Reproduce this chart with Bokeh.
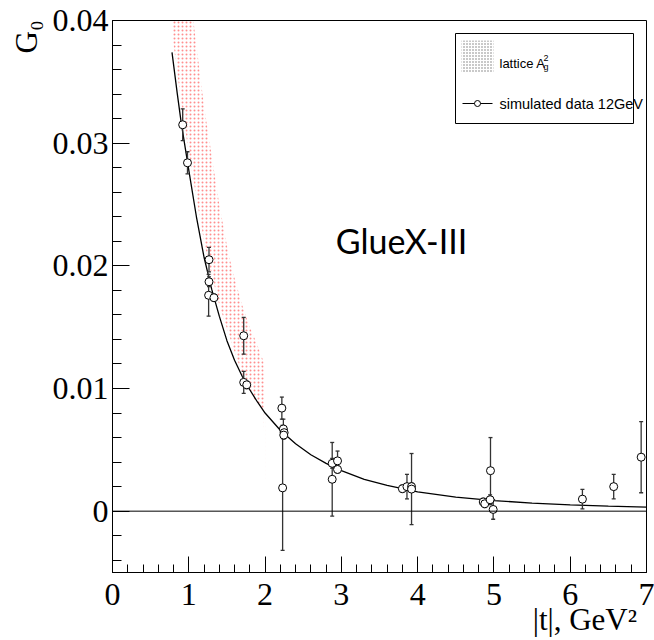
from bokeh.plotting import figure
from bokeh.models import (Range1d, FixedTicker, CustomJSTickFormatter, Span, Label,
                          BoxAnnotation)
from bokeh.embed import file_html
from bokeh.resources import INLINE

# ---------------- data ----------------
# fitted curve G0(|t|)
curve_t = [0.78, 0.85, 0.9, 1.0, 1.1, 1.2, 1.3, 1.4, 1.5, 1.6, 1.7, 1.8, 1.9, 2.0,
           2.2, 2.4, 2.6, 2.8, 3.0, 3.3, 3.6, 4.0, 4.5, 5.0, 5.5, 6.0, 6.5, 7.0]
curve_g = [0.0374, 0.0340, 0.0317, 0.0278, 0.0240, 0.0207, 0.0181, 0.0159, 0.0139,
           0.0123, 0.0110, 0.0099, 0.0089, 0.0080, 0.0066, 0.0055, 0.0046, 0.0039,
           0.0033, 0.0026, 0.0021, 0.00158, 0.00115, 0.00086, 0.00066, 0.00052,
           0.00041, 0.00033]

# lattice A_g^2 band
band_t = [0.78, 0.9, 1.0, 1.06, 1.1, 1.2, 1.29, 1.4, 1.52, 1.6, 1.7, 1.8, 1.87, 1.98, 2.0]
band_lo = [0.0390, 0.0333, 0.0292, 0.0270, 0.0255, 0.0220, 0.0195, 0.0168, 0.0145,
           0.0130, 0.0112, 0.0098, 0.0090, 0.0082, 0.0025]
band_hi = [0.0620, 0.0520, 0.0440, 0.0400, 0.0380, 0.0330, 0.0294, 0.0250, 0.0210,
           0.0190, 0.0168, 0.0150, 0.0140, 0.0122, 0.0082]

# simulated data 12 GeV
pt_t = [0.92, 0.983, 1.265, 1.265, 1.26, 1.33, 1.72, 1.72, 1.76, 2.22, 2.24, 2.25,
        2.245, 2.23, 2.88, 2.88, 2.95, 2.95, 3.80, 3.86, 3.92, 3.92, 4.86, 4.88,
        4.95, 4.955, 4.99, 6.16, 6.57, 6.93]
pt_g = [0.0315, 0.0284, 0.0205, 0.0187, 0.0176, 0.0174, 0.0143, 0.0105, 0.0103,
        0.0084, 0.0067, 0.0064, 0.0062, 0.0019, 0.0039, 0.0026, 0.0041, 0.0034,
        0.00183, 0.0020, 0.0020, 0.0018, 0.00075, 0.0006, 0.00093, 0.0033, 0.00014,
        0.00098, 0.0020, 0.0044]
pt_err = [0.0013, 0.0009, 0.0010, 0.0004, 0.0017, 0.0003, 0.0015, 0.0009, 0.0003,
          0.0009, 0.0008, 0.0004, 0.0003, 0.0051, 0.0004, 0.0030, 0.0008, 0.0003,
          0.0003, 0.0010, 0.0003, 0.0029, 0.0003, 0.0003, 0.0004, 0.0027, 0.0008,
          0.0008, 0.0010, 0.0029]

x_ticks = [0, 1, 2, 3, 4, 5, 6, 7]
y_ticks = [0.0, 0.01, 0.02, 0.03, 0.04]
x_title = "|t|, GeV²"
y_title = "G₀"

# ---------------- layout ----------------
W, H = 654, 640
FX0, FX1, FY0, FY1 = 112, 646, 20, 572
XMIN, XMAX, YMIN, YMAX = 0.0, 7.0, -0.005, 0.04
NB = "\u00a0"   # non-breaking space used to push the centred axis titles to the axis end


def px2x(px):
    return XMIN + (px - FX0) / (FX1 - FX0) * (XMAX - XMIN)


def py2y(py):
    return YMAX - (py - FY0) / (FY1 - FY0) * (YMAX - YMIN)


p = figure(width=W, height=H, x_range=Range1d(XMIN, XMAX), y_range=Range1d(YMIN, YMAX),
           output_backend="svg", toolbar_location=None, title=None,
           min_border_left=FX0, min_border_right=W - FX1,
           min_border_top=FY0, min_border_bottom=H - FY1)
p.grid.visible = False
p.outline_line_color = "black"
p.outline_line_width = 1
p.background_fill_color = "white"
p.border_fill_color = "white"

serif = "Liberation Serif"

xminor = [round(0.2 * i, 4) for i in range(0, 36)]
yminor = [round(-0.004 + 0.002 * i, 5) for i in range(0, 23)]

xa = p.xaxis[0]
xa.ticker = FixedTicker(ticks=x_ticks, minor_ticks=xminor)
xa.major_tick_in = 16
xa.major_tick_out = 0
xa.minor_tick_in = 8
xa.minor_tick_out = 0
xa.axis_line_color = "black"
xa.major_tick_line_color = "black"
xa.minor_tick_line_color = "black"
xa.major_label_text_font = serif
xa.major_label_text_font_size = "32px"
xa.major_label_text_color = "black"
xa.major_label_standoff = 11
xa.axis_label = NB * 53 + x_title
xa.axis_label_align = "center"
xa.axis_label_text_font = serif
xa.axis_label_text_font_size = "31px"
xa.axis_label_text_font_style = "normal"
xa.axis_label_text_color = "black"
xa.axis_label_standoff = -6

ya = p.yaxis[0]
ya.ticker = FixedTicker(ticks=y_ticks, minor_ticks=yminor)
ya.formatter = CustomJSTickFormatter(code="return Math.abs(tick) < 1e-9 ? '0' : tick.toFixed(2);")
ya.major_tick_in = 17
ya.major_tick_out = 0
ya.minor_tick_in = 9
ya.minor_tick_out = 0
ya.axis_line_color = "black"
ya.major_tick_line_color = "black"
ya.minor_tick_line_color = "black"
ya.major_label_text_font = serif
ya.major_label_text_font_size = "32px"
ya.major_label_text_color = "black"
ya.major_label_standoff = 4
ya.axis_label = NB * 67 + y_title
ya.axis_label_align = "center"
ya.axis_label_text_font = serif
ya.axis_label_text_font_size = "31px"
ya.axis_label_text_font_style = "normal"
ya.axis_label_text_color = "black"
ya.axis_label_standoff = 6

# lattice band
p.varea(x=band_t, y1=band_lo, y2=band_hi, fill_alpha=0, hatch_pattern="dot",
        hatch_color="#ff4444", hatch_scale=4, hatch_weight=1, hatch_alpha=0.6)

# zero line
p.add_layout(Span(location=0, dimension="width", line_color="black", line_width=1))

# curve
p.line(curve_t, curve_g, line_color="black", line_width=1.3)

# error bars + points
lo = [g - e for g, e in zip(pt_g, pt_err)]
hi = [g + e for g, e in zip(pt_g, pt_err)]
p.segment(x0=pt_t, y0=lo, x1=pt_t, y1=hi, line_color="#333333", line_width=1.3)
p.scatter(pt_t, lo, marker="dash", size=4, line_color="#333333", line_width=1.3)
p.scatter(pt_t, hi, marker="dash", size=4, line_color="#333333", line_width=1.3)
p.scatter(pt_t, pt_g, marker="circle", size=8, fill_color="white", line_color="black",
          line_width=1)

# GlueX-III
p.add_layout(Label(x=px2x(401), y=py2y(240), text="GlueX-III", text_font="Lato",
                   text_font_size="34px", text_align="center", text_baseline="middle",
                   text_color="black"))

# legend
p.add_layout(BoxAnnotation(left=px2x(455), right=px2x(633), top=py2y(33), bottom=py2y(123),
                           fill_color="white", fill_alpha=1, line_color="black",
                           line_width=1, line_alpha=1))
p.add_layout(BoxAnnotation(left=px2x(461), right=px2x(493), top=py2y(40), bottom=py2y(72),
                           fill_alpha=0, line_alpha=0, hatch_pattern="dot",
                           hatch_color="#777777", hatch_scale=3, hatch_weight=1))
p.add_layout(Label(x=px2x(499), y=py2y(63), text="lattice A", text_font="Liberation Sans",
                   text_font_size="13px", text_align="left", text_baseline="alphabetic",
                   text_color="black"))
p.add_layout(Label(x=px2x(543), y=py2y(57), text="2", text_font="Liberation Sans",
                   text_font_size="9px", text_align="left", text_baseline="alphabetic",
                   text_color="black"))
p.add_layout(Label(x=px2x(543), y=py2y(66), text="g", text_font="Liberation Sans",
                   text_font_size="9px", text_align="left", text_baseline="alphabetic",
                   text_color="black"))
p.add_layout(Label(x=px2x(499), y=py2y(103), text="simulated data 12GeV",
                   text_font="Liberation Sans", text_font_size="14.5px", text_align="left",
                   text_baseline="middle", text_color="black"))
p.line([px2x(462), px2x(492)], [py2y(103), py2y(103)], line_color="black",
       line_width=1, level="overlay")
p.scatter([px2x(477)], [py2y(103)], marker="circle", size=6, fill_color="white",
          line_color="black", line_width=1, level="overlay")

open("out.html", "w").write(file_html(p, INLINE))
